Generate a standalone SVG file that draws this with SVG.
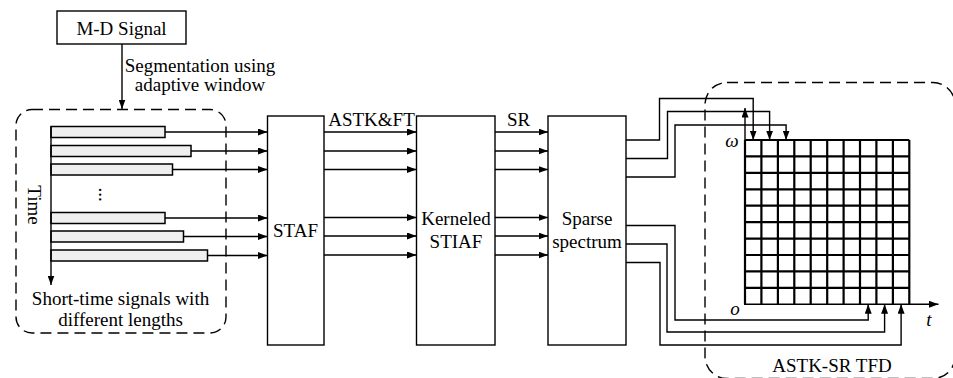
<svg xmlns="http://www.w3.org/2000/svg" width="953" height="378" viewBox="0 0 953 378">
<style>
text{font-family:"Liberation Serif","Times New Roman",Tinos,"Noto Serif","Nimbus Roman","FreeSerif","DejaVu Serif",Times,serif;font-size:19px;fill:#000}
.m{text-anchor:middle}
.it{font-style:italic}
.box{fill:#fff;stroke:#000;stroke-width:1.4}
.dash{fill:none;stroke:#000;stroke-width:1.4;stroke-dasharray:11 6}
.bar{fill:#efefef;stroke:#000;stroke-width:1.5}
.arr{fill:none;stroke:#000;stroke-width:1.4;marker-end:url(#ah)}
.grid{stroke:#000;stroke-width:2.2;fill:none}
</style>
<defs>
<marker id="ah" markerUnits="userSpaceOnUse" markerWidth="10" markerHeight="7" refX="9.5" refY="3.5" orient="auto">
<path d="M0,0 L9.5,3.5 L0,7 z" fill="#000"/>
</marker>
</defs>

<g id="md-signal">
<rect class="box" x="57" y="11" width="129" height="33"/>
<text class="m" x="121.5" y="34.5">M-D Signal</text>
</g>

<g id="segments">
<rect class="dash" x="16" y="109.5" width="210" height="223.5" rx="16" ry="16"/>
<rect class="bar" x="51" y="126.5" width="114" height="11"/>
<rect class="bar" x="51" y="145.5" width="140" height="11"/>
<rect class="bar" x="51" y="164" width="121.5" height="11"/>
<rect class="bar" x="51" y="212.5" width="114" height="11"/>
<rect class="bar" x="51" y="231" width="132.5" height="11"/>
<rect class="bar" x="51" y="250" width="156.5" height="11"/>
<line class="arr" x1="51" y1="126.5" x2="51" y2="285"/>
<text class="m" transform="translate(28,205) rotate(90)" font-size="18">Time</text>
<text class="m" transform="translate(98.5,194.5) rotate(90)" font-size="15">...</text>
<text class="m" x="120.5" y="305">Short-time signals with</text>
<text class="m" x="120.5" y="326">different lengths</text>
</g>

<g id="staf">
<rect class="box" x="267.5" y="116" width="56.5" height="229"/>
<text class="m" x="295.5" y="237">STAF</text>
</g>

<g id="kerneled-stiaf">
<rect class="box" x="416.5" y="116" width="78.5" height="229"/>
<text class="m" x="456" y="225">Kerneled</text>
<text class="m" x="456" y="248">STIAF</text>
</g>

<g id="sparse-spectrum">
<rect class="box" x="548" y="116" width="78" height="229"/>
<text class="m" x="587" y="225">Sparse</text>
<text class="m" x="587" y="248">spectrum</text>
</g>

<g id="tfd">
<rect class="dash" x="705" y="82.5" width="250" height="296" rx="22" ry="22"/>
<g class="grid">
<path d="M745,140 H909.3 M745,156.4 H909.3 M745,172.9 H909.3 M745,189.3 H909.3 M745,205.7 H909.3 M745,222.2 H909.3 M745,238.6 H909.3 M745,255 H909.3 M745,271.4 H909.3 M745,287.9 H909.3"/>
<path d="M761.4,140 V304.3 M777.9,140 V304.3 M794.3,140 V304.3 M810.7,140 V304.3 M827.2,140 V304.3 M843.6,140 V304.3 M860,140 V304.3 M876.4,140 V304.3 M892.9,140 V304.3 M909.3,140 V304.3"/>
<line x1="745" y1="140" x2="745" y2="304.3"/>
</g>
<line class="arr" x1="745" y1="140" x2="745" y2="108"/>
<line class="arr" x1="744" y1="304.3" x2="938.5" y2="304.3"/>
<text class="m it" x="732" y="147">ω</text>
<text class="m it" x="735" y="315">o</text>
<text class="m it" x="929" y="325.5">t</text>
<text class="m" x="832" y="372">ASTK-SR TFD</text>
</g>

<g id="connectors">
<line class="arr" x1="165" y1="132" x2="267.5" y2="132"/>
<line class="arr" x1="191" y1="151" x2="267.5" y2="151"/>
<line class="arr" x1="172.5" y1="169.5" x2="267.5" y2="169.5"/>
<line class="arr" x1="165" y1="218" x2="267.5" y2="218"/>
<line class="arr" x1="183.5" y1="236.5" x2="267.5" y2="236.5"/>
<line class="arr" x1="207.5" y1="255.5" x2="267.5" y2="255.5"/>

<line class="arr" x1="324" y1="132" x2="416.5" y2="132"/>
<line class="arr" x1="324" y1="151" x2="416.5" y2="151"/>
<line class="arr" x1="324" y1="169.5" x2="416.5" y2="169.5"/>
<line class="arr" x1="324" y1="217.5" x2="416.5" y2="217.5"/>
<line class="arr" x1="324" y1="236" x2="416.5" y2="236"/>
<line class="arr" x1="324" y1="255" x2="416.5" y2="255"/>
<text class="m" x="371.5" y="125.5">ASTK&amp;FT</text>

<line class="arr" x1="495" y1="132" x2="548" y2="132"/>
<line class="arr" x1="495" y1="151" x2="548" y2="151"/>
<line class="arr" x1="495" y1="169.5" x2="548" y2="169.5"/>
<line class="arr" x1="495" y1="217.5" x2="548" y2="217.5"/>
<line class="arr" x1="495" y1="236" x2="548" y2="236"/>
<line class="arr" x1="495" y1="255" x2="548" y2="255"/>
<text class="m" x="518.5" y="125.5">SR</text>

<line class="arr" x1="122" y1="44" x2="122" y2="109"/>
<text class="m" x="200" y="71.5">Segmentation using</text>
<text class="m" x="200" y="91">adaptive window</text>

<polyline class="arr" points="626,140 659.5,140 659.5,98.5 753.2,98.5 753.2,140"/>
<polyline class="arr" points="626,158.5 667.5,158.5 667.5,111.5 769.6,111.5 769.6,140"/>
<polyline class="arr" points="626,177 675,177 675,125 786.1,125 786.1,140"/>

<polyline class="arr" points="626,225.5 675,225.5 675,320 868.2,320 868.2,304.3"/>
<polyline class="arr" points="626,244 667,244 667,332 884.6,332 884.6,304.3"/>
<polyline class="arr" points="626,262.5 660,262.5 660,345 901.1,345 901.1,304.3"/>
</g>
</svg>
